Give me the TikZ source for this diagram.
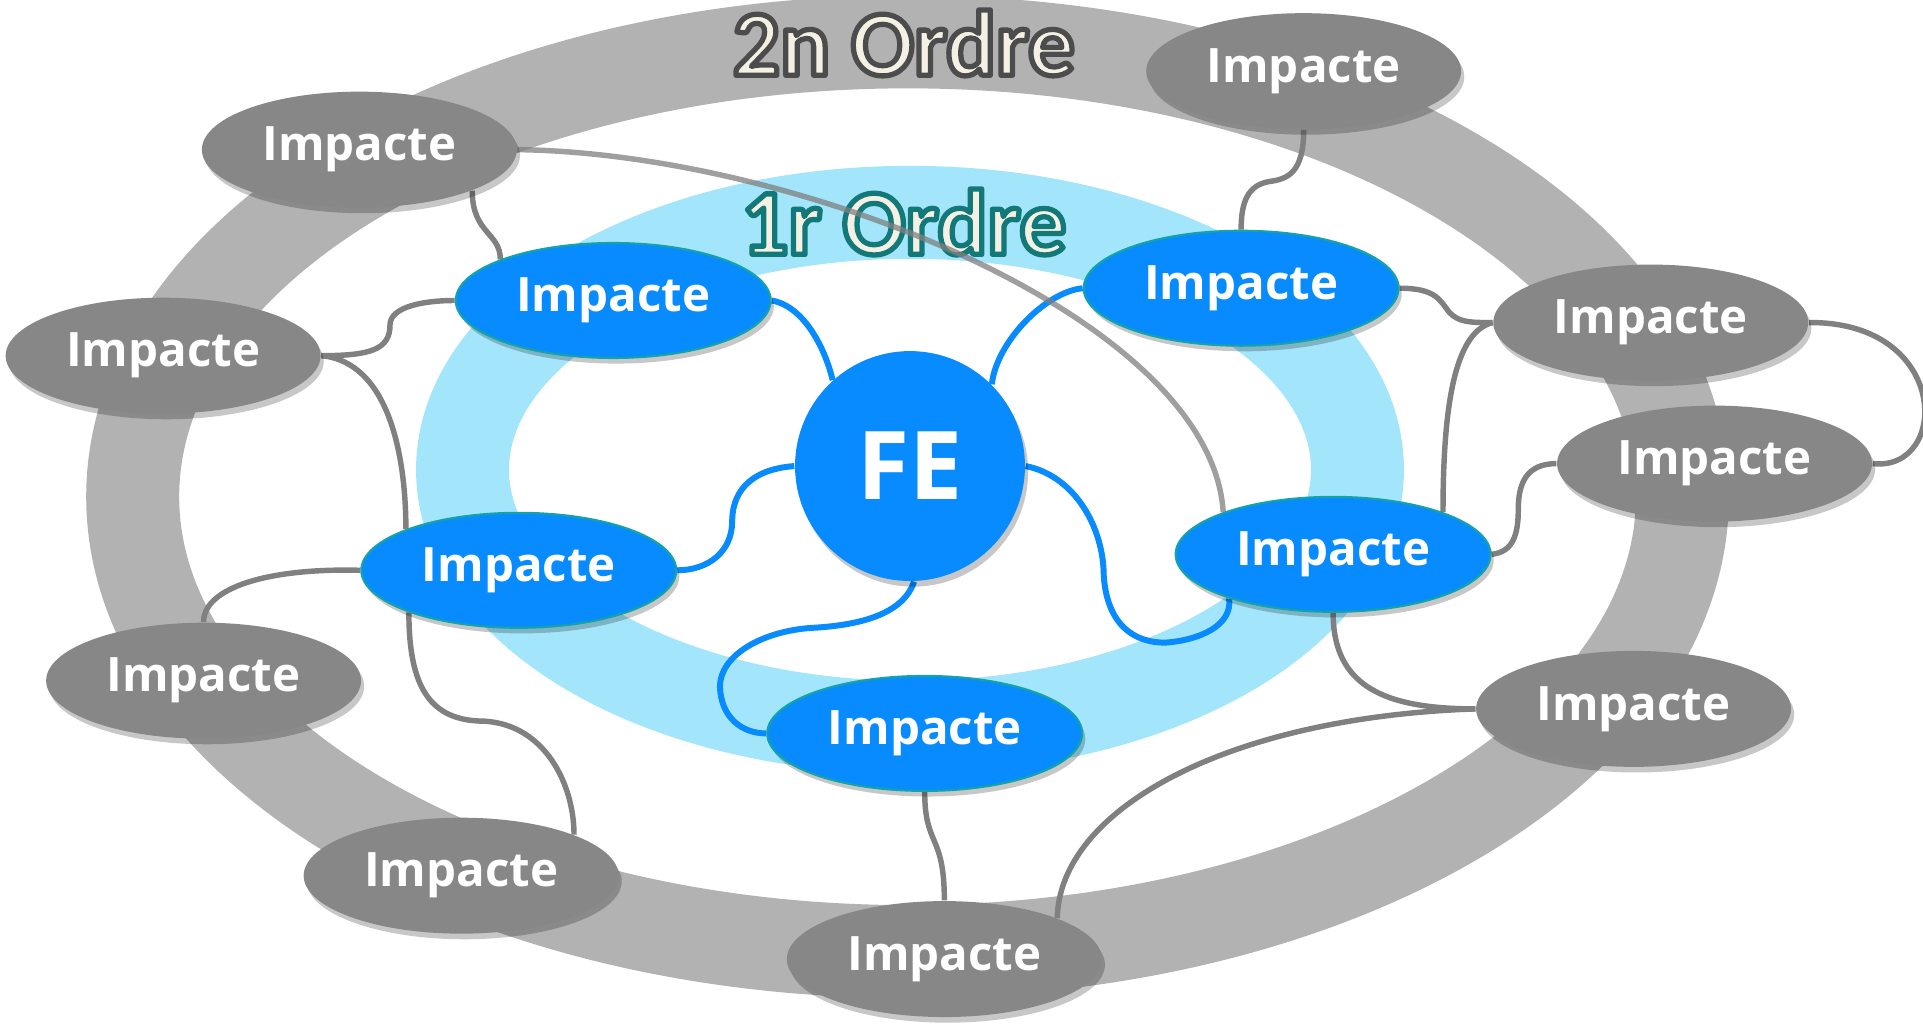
\documentclass[tikz,border=0pt]{standalone}
\usepackage{fontspec}
\setmainfont{Open Sans}
\newfontfamily\titlefont{Carlito}
\usetikzlibrary{shapes.geometric,shadows}
\pgfdeclarelayer{back}
\pgfdeclarelayer{bg}
\pgfsetlayers{back,bg,main}
\definecolor{ringgray}{HTML}{B2B2B2}
\definecolor{nodegray}{HTML}{878787}
\definecolor{linegray}{HTML}{808080}
\definecolor{ringblue}{HTML}{A3E6FB}
\definecolor{nodeblue}{HTML}{088BFE}
\definecolor{blueedge}{HTML}{13A3A8}
\definecolor{cream}{HTML}{F4F1E4}

% outlined text: #1 = stroke colour as "r g b", #2 = stroke width, #3 = text
\newcommand{\strokedtext}[3]{%
  {\color{cream}\special{pdf:code q 2 Tr #2 w 1 j #1 RG}#3\special{pdf:code 0 Tr Q}}}

\tikzset{
  shad/.style={drop shadow={shadow xshift=0.9pt, shadow yshift=-1.6pt, opacity=0.22, fill=black}},
  impg/.style={ellipse, fill=nodegray, text=white, shad,
    font=\bfseries\fontsize{13.5}{16}\selectfont,
    minimum width=3.15cm, minimum height=1.16cm, inner sep=0pt},
  impb/.style={ellipse, fill=nodeblue, draw=blueedge, line width=0.6pt, text=white, shad,
    font=\bfseries\fontsize{13.5}{16}\selectfont,
    minimum width=3.15cm, minimum height=1.15cm, inner sep=0pt},
  fecirc/.style={circle, fill=nodeblue, text=white, shad,
    font=\bfseries\fontsize{27}{30}\selectfont,
    minimum size=2.3cm, inner sep=0pt},
  titletxt/.style={inner sep=0pt, font=\titlefont\bfseries\fontsize{26.5}{30}\selectfont},
  gline/.style={draw=linegray, line width=1.55pt},
  bline/.style={draw=nodeblue, line width=1.7pt},
}

\begin{document}
\begin{tikzpicture}[x=0.012264cm, y=-0.012264cm]
\begin{pgfonlayer}{back}
\fill[white] (0,0) rectangle (1568,835);
\end{pgfonlayer}
\useasboundingbox (0,0) rectangle (1568,835);

% nodes
\node[fecirc] (fe) at (742,380) {FE};
\node[impb] (b1) at (500,245) {Impacte};
\node[impb] (b2) at (1012,235) {Impacte};
\node[impb] (b3) at (423,465) {Impacte};
\node[impb] (b4) at (1087,452) {Impacte};
\node[impb] (b5) at (754,598) {Impacte};

\node[impg] (a) at (293,122) {Impacte};
\node[impg] (b) at (1063,58) {Impacte};
\node[impg] (c) at (133,290) {Impacte};
\node[impg] (d) at (1346,263) {Impacte};
\node[impg] (e) at (1398,378) {Impacte};
\node[impg] (f) at (166,555) {Impacte};
\node[impg] (g) at (1332,578) {Impacte};
\node[impg] (h) at (376,714) {Impacte};
\node[impg] (i) at (770,782) {Impacte};

\begin{pgfonlayer}{bg}
  % rings
  \draw[ringgray, line width=0.93cm] (740,405) ellipse [x radius=7.751cm, y radius=4.55cm];
  \draw[ringblue, line width=0.93cm] (742,383) ellipse [x radius=4.476cm, y radius=2.575cm];
  % titles
  \node[titletxt] (t2) at (737,35) {\strokedtext{0.30 0.30 0.30}{1.5}{2n Ordre}};
  \node[titletxt] (t1) at (737,181) {\strokedtext{0.07 0.47 0.47}{1.5}{1r Ordre}};

  % blue connectors
  \draw[bline] (b1.east) .. controls +(28,5) and +(-5,-22) .. (fe.132);
  \draw[bline] (b2.west) .. controls +(-30,3) and +(4,-35) .. (fe.45);
  \draw[bline] (fe.180) .. controls +(-40,3) and +(0,-20) .. (597,425)
                        .. controls +(0,25) and +(25,0) .. (b3.east);
  \draw[bline] (fe.0) .. controls +(40,8) and +(0,-40) .. (900,470)
                      .. controls +(3,40) and +(-25,0) .. (950,524)
                      .. controls +(28,-2) and +(3,22) .. (b4.203);
  \draw[bline] (fe.-88) .. controls +(-9,27) and +(39,-2) .. (661,512)
                        .. controls +(-41,3) and +(0,-25) .. (587,560)
                        .. controls +(1,25) and +(-20,0) .. (b5.west);

  % gray connectors
  \draw[gline, opacity=0.75] (a.east) .. controls +(230,3) and +(-10,-158) .. (b4.159);
  \draw[gline] (a.-20) .. controls +(0,35) and +(0,-22) .. (b1.160);
  \draw[gline] (c.east) .. controls +(40,0) and +(0,20) .. (318,265)
                        .. controls +(0,-15) and +(-25,0) .. (b1.west);
  \draw[gline] (c.east) .. controls +(55,5) and +(0,-60) .. (b3.160);
  \draw[gline] (b3.201) .. controls +(0,60) and +(-45,0) .. (395,588)
                        .. controls +(50,3) and +(0,-40) .. (h.20);
  \draw[gline] (b3.west) .. controls +(-75,-2) and +(0,-28) .. (f.north);
  \draw[gline] (b.south) .. controls +(0,35) and +(15,-2) .. (1035,148)
                         .. controls +(-18,3) and +(0,-22) .. (b2.north);
  \draw[gline] (b2.east) .. controls +(30,0) and +(-8,-10) .. (1182,255)
                         .. controls +(8,8) and +(-18,0) .. (d.west);
  \draw[gline] (d.west) .. controls +(-28,7) and +(0,-98) .. (b4.21);
  \draw[gline] (d.east) .. controls +(116,-1) and +(63,7) .. (e.east);
  \draw[gline] (e.west) .. controls +(-25,0) and +(0,-20) .. (1238,415)
                        .. controls +(0,20) and +(18,-2) .. (b4.east);
  \draw[gline] (b4.south) .. controls +(0,60) and +(-74,0) .. (g.west);
  \draw[gline] (g.west) .. controls +(-204,7) and +(2,-88) .. (i.20);
  \draw[gline] (b5.south) .. controls +(0,45) and +(0,-55) .. (i.north);
\end{pgfonlayer}
\end{tikzpicture}
\end{document}
